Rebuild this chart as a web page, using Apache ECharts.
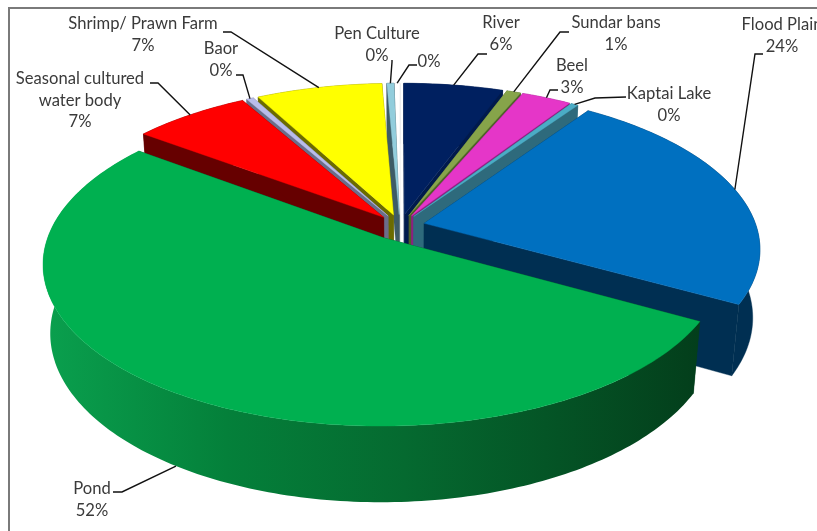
<!DOCTYPE html>
<html>
<head>
<meta charset="utf-8">
<style>html,body{margin:0;padding:0;background:#fff;overflow:hidden}#chart{width:817px;height:531px}</style>
<script src="https://cdn.jsdelivr.net/npm/echarts@6/dist/echarts.min.js"></script>
</head>
<body>
<div id="chart"></div>
<script>
// Water body types, clockwise from twelve o'clock (percent of total)
const names = ['River', 'Sundar bans', 'Beel', 'Kaptai Lake', 'Flood Plain', 'Pond',
  'Seasonal cultured\nwater body', 'Baor', 'Shrimp/ Prawn Farm', 'Pen Culture', ''];
const shares = [5.6, 0.8, 2.8, 0.4, 23.5, 52.1, 6.6, 0.4, 7.1, 0.4, 0.3];

// Top face and wall colours
const topColors = ['#002060', '#86A44A', '#E536C8', '#4BACC6', '#0070C0', '#00B050',
  '#FF0000', '#B9BCEA', '#FFFF00', '#92CDDC', '#FFFFFF'];
const wallColors = ['#001A4C', '#4F6128', '#8C2080', '#2E6A7C', '#002F52', '#04401C',
  '#660000', '#6B6E8A', '#6B6B00', '#3E5C66', '#C8C8C8'];

// How far each slice is pulled out of the disc, as a fraction of the radius
const explode = [0.075, 0.075, 0.075, 0.075, 0.075, 0.09, 0.075, 0.075, 0.075, 0.075, 0.075];

// Label layout: text centre x, middle of first line y, leader elbow and leader end
const labelLayout = [
  {x: 501, y: 22, elbow: [478, 54], end: [487, 54]},
  {x: 616, y: 22, elbow: [560, 32], end: [569, 32]},
  {x: 572, y: 65, elbow: [550, 90], end: [558, 90]},
  {x: 669, y: 93, elbow: [595, 98], end: [626, 97]},
  {x: 782, y: 24, elbow: [755, 54], end: [763, 54]},
  {x: 92, y: 488, elbow: [122, 492], end: [113, 492], onBase: true},
  {x: 80, y: 78, elbow: [158, 83], end: [150, 83]},
  {x: 221, y: 48, elbow: [243, 75], end: [236, 75]},
  {x: 143, y: 23, elbow: [231, 32], end: [223, 32]},
  {x: 377, y: 33, elbow: [392, 62], end: [392, 60]},
  {x: 429, y: 61, elbow: [409, 65], end: [417, 65]}
];

// Camera model of the tilted disc
const CX = 400, CY = 226, R = 332, TILT = 155, DEPTH = 69;
const PERSP = 0.155, PERSP_H = 0.02;
const STEP = Math.PI / 180;
const LINE_HEIGHT = 21.5;

const total = shares.reduce((a, b) => a + b, 0);
let running = 0;
const slices = shares.map((s, i) => {
  const a0 = running / total * 2 * Math.PI;
  running += s;
  const a1 = running / total * 2 * Math.PI;
  const mid = (a0 + a1) / 2;
  return {i, a0, a1, mid, ox: explode[i] * Math.sin(mid), oz: explode[i] * Math.cos(mid)};
});

function project(u, v, h) {
  const w = 1 + PERSP * v + PERSP_H * h;
  return [CX + R * u / w, CY + (-TILT * v + DEPTH * h) / w];
}
const rim = (s, a, h) => project(s.ox + Math.sin(a), s.oz + Math.cos(a), h);
const apex = (s, h) => project(s.ox, s.oz, h);

function arc(s, h) {
  const pts = [];
  const n = Math.max(2, Math.ceil((s.a1 - s.a0) / STEP));
  for (let k = 0; k <= n; k++) pts.push(rim(s, s.a0 + (s.a1 - s.a0) * k / n, h));
  return pts;
}

// Farther slices are painted first
const drawOrder = slices.slice().sort((a, b) => b.oz - a.oz).map(s => s.i);

function renderSlice(params, api) {
  const s = slices[api.value(0)];
  const wall = wallColors[s.i];
  const poly = (points, fill) => ({
    type: 'polygon', shape: {points},
    style: {fill, stroke: typeof fill === 'string' ? fill : null, lineWidth: 0.4}
  });
  const outerFill = names[s.i] === 'Pond'
    ? {type: 'linear', x: 0, y: 0, x2: 1, y2: 0, colorStops: [
        {offset: 0, color: '#0AA04E'}, {offset: 0.28, color: '#04803A'},
        {offset: 0.55, color: '#056A30'}, {offset: 1, color: '#033E1B'}]}
    : wall;
  const top = arc(s, 0), base = arc(s, 1);
  return {
    type: 'group',
    children: [
      poly([apex(s, 0), rim(s, s.a0, 0), rim(s, s.a0, 1), apex(s, 1)], wall),
      poly([apex(s, 0), rim(s, s.a1, 0), rim(s, s.a1, 1), apex(s, 1)], wall),
      poly(top.concat(base.slice().reverse()), outerFill),
      poly([apex(s, 0)].concat(top), topColors[s.i])
    ]
  };
}

// Frame, leader lines and the data labels
const elements = [{
  type: 'rect', shape: {x: 9, y: 8, width: 900, height: 700},
  style: {fill: 'transparent', stroke: '#7A7A7A', lineWidth: 2}, z: 1
}];
slices.forEach(s => {
  const lay = labelLayout[s.i];
  elements.push({
    type: 'polyline', z: 20,
    shape: {points: [rim(s, s.mid, lay.onBase ? 1 : 0), lay.elbow, lay.end]},
    style: {fill: null, stroke: '#111111', lineWidth: 1.4}
  });
  const pct = Math.round(shares[s.i] / total * 100) + '%';
  const text = names[s.i] ? names[s.i] + '\n' + pct : pct;
  elements.push({
    type: 'text', x: lay.x, y: lay.y + 1 - LINE_HEIGHT / 2, z: 21,
    style: {
      text, fill: '#3A3A3A', font: '16.6px Lato', align: 'center',
      verticalAlign: 'top', lineHeight: LINE_HEIGHT
    }
  });
});

const chart = echarts.init(document.getElementById('chart'), null, {renderer: 'canvas'});
chart.setOption({
  animation: false,
  backgroundColor: '#FFFFFF',
  graphic: {elements},
  series: [{
    type: 'custom',
    coordinateSystem: 'none',
    silent: true,
    z: 5,
    renderItem: renderSlice,
    data: drawOrder.map(i => ({value: [i], name: names[i]}))
  }]
});
</script>
</body>
</html>
